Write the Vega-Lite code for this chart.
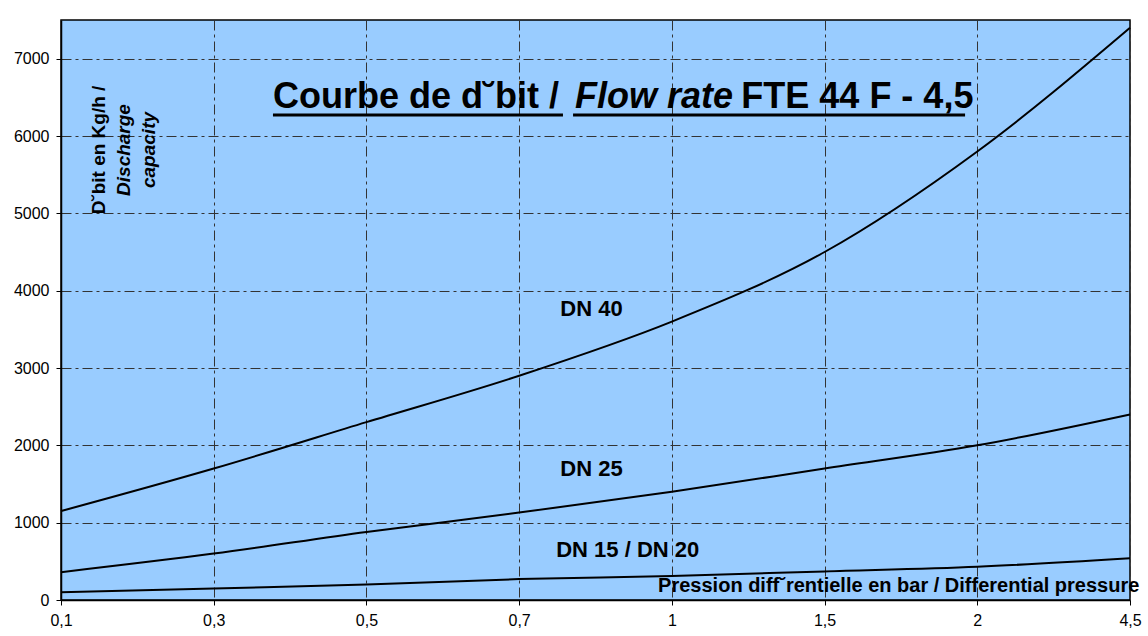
{
  "$schema": "https://vega.github.io/schema/vega-lite/v6.json",
  "width": 1069,
  "height": 580,
  "autosize": {"type": "none"},
  "padding": {"left": 61, "top": 20, "right": 18, "bottom": 36},
  "background": "white",
  "config": {
    "font": "Liberation Sans",
    "view": {"fill": "#99CCFF", "stroke": "#000000", "strokeWidth": 1.5},
    "axis": {
      "grid": true,
      "gridColor": "#333333",
      "gridDash": [10, 4, 3, 4],
      "gridWidth": 1,
      "gridOpacity": 1,
      "domainColor": "#000000",
      "domainWidth": 1.5,
      "tickColor": "#000000",
      "tickSize": 5,
      "tickWidth": 1,
      "labelFont": "Liberation Sans",
      "labelFontSize": 16,
      "labelColor": "#000000",
      "title": null
    }
  },
  "datasets": {
    "curves": [
      {"series": "DN 40", "pressure": "0,1", "idx": 0, "flow": 1150},
      {"series": "DN 40", "pressure": "0,3", "idx": 1, "flow": 1700},
      {"series": "DN 40", "pressure": "0,5", "idx": 2, "flow": 2300},
      {"series": "DN 40", "pressure": "0,7", "idx": 3, "flow": 2900},
      {"series": "DN 40", "pressure": "1", "idx": 4, "flow": 3600},
      {"series": "DN 40", "pressure": "1,5", "idx": 5, "flow": 4500},
      {"series": "DN 40", "pressure": "2", "idx": 6, "flow": 5800},
      {"series": "DN 40", "pressure": "4,5", "idx": 7, "flow": 7400},
      {"series": "DN 25", "pressure": "0,1", "idx": 0, "flow": 360},
      {"series": "DN 25", "pressure": "0,3", "idx": 1, "flow": 600},
      {"series": "DN 25", "pressure": "0,5", "idx": 2, "flow": 880},
      {"series": "DN 25", "pressure": "0,7", "idx": 3, "flow": 1130},
      {"series": "DN 25", "pressure": "1", "idx": 4, "flow": 1400},
      {"series": "DN 25", "pressure": "1,5", "idx": 5, "flow": 1700},
      {"series": "DN 25", "pressure": "2", "idx": 6, "flow": 2000},
      {"series": "DN 25", "pressure": "4,5", "idx": 7, "flow": 2400},
      {"series": "DN 15 / DN 20", "pressure": "0,1", "idx": 0, "flow": 100},
      {"series": "DN 15 / DN 20", "pressure": "0,3", "idx": 1, "flow": 150},
      {"series": "DN 15 / DN 20", "pressure": "0,5", "idx": 2, "flow": 200},
      {"series": "DN 15 / DN 20", "pressure": "0,7", "idx": 3, "flow": 270},
      {"series": "DN 15 / DN 20", "pressure": "1", "idx": 4, "flow": 310},
      {"series": "DN 15 / DN 20", "pressure": "1,5", "idx": 5, "flow": 370},
      {"series": "DN 15 / DN 20", "pressure": "2", "idx": 6, "flow": 430},
      {"series": "DN 15 / DN 20", "pressure": "4,5", "idx": 7, "flow": 540}
    ]
  },
  "encoding": {
    "x": {
      "field": "idx",
      "type": "quantitative",
      "scale": {"domain": [0, 7], "nice": false, "zero": false},
      "axis": {
        "values": [0, 1, 2, 3, 4, 5, 6, 7],
        "labelExpr": "['0,1','0,3','0,5','0,7','1','1,5','2','4,5'][datum.value]",
        "labelPadding": 7,
        "labelFlush": false,
        "labelOverlap": false
      }
    },
    "y": {
      "field": "flow",
      "type": "quantitative",
      "scale": {"domain": [0, 7500], "nice": false},
      "axis": {
        "values": [0, 1000, 2000, 3000, 4000, 5000, 6000, 7000],
        "labelPadding": 7,
        "format": "d"
      }
    }
  },
  "layer": [
    {
      "data": {"name": "curves"},
      "mark": {"type": "line", "interpolate": "monotone", "color": "#000000", "strokeWidth": 2},
      "encoding": {"detail": {"field": "series"}}
    },
    {
      "data": {"values": [
        {"label": "DN 40", "idx": 3.474, "flow": 3676},
        {"label": "DN 25", "idx": 3.474, "flow": 1607},
        {"label": "DN 15 / DN 20", "idx": 3.711, "flow": 560}
      ]},
      "mark": {"type": "text", "font": "Liberation Sans", "fontWeight": "bold", "fontSize": 22, "align": "center", "baseline": "alphabetic", "color": "#000000"},
      "encoding": {"text": {"field": "label"}}
    },
    {
      "data": {"values": [
        {"label": "Pression diff˘rentielle en bar / Differential pressure", "idx": 3.91, "flow": 107}
      ]},
      "mark": {"type": "text", "font": "Liberation Sans", "fontWeight": "bold", "fontSize": 20, "align": "left", "baseline": "alphabetic", "color": "#000000"},
      "encoding": {"text": {"field": "label"}}
    },
    {
      "data": {"values": [
        {"label": "Courbe de d˘bit /", "idx": 1.388, "flow": 6356},
        {"label": "FTE 44 F - 4,5", "idx": 4.455, "flow": 6356}
      ]},
      "mark": {"type": "text", "font": "Liberation Sans", "fontWeight": "bold", "fontSize": 36, "align": "left", "baseline": "alphabetic", "color": "#000000"},
      "encoding": {"text": {"field": "label"}}
    },
    {
      "data": {"values": [
        {"label": "Flow rate", "idx": 3.366, "flow": 6356}
      ]},
      "mark": {"type": "text", "font": "Liberation Sans", "fontWeight": "bold", "fontStyle": "italic", "fontSize": 36, "align": "left", "baseline": "alphabetic", "color": "#000000"},
      "encoding": {"text": {"field": "label"}}
    },
    {
      "data": {"values": [
        {"idx": 1.388, "idx_end": 3.287, "flow": 6272},
        {"idx": 3.353, "idx_end": 5.92, "flow": 6272}
      ]},
      "mark": {"type": "rule", "color": "#000000", "strokeWidth": 3},
      "encoding": {"x2": {"field": "idx_end"}}
    },
    {
      "data": {"values": [
        {"label": "D˘bit en Kg/h /", "idx": 0.291, "flow": 5819}
      ]},
      "mark": {"type": "text", "font": "Liberation Sans", "fontWeight": "bold", "fontSize": 19, "angle": 270, "align": "center", "baseline": "alphabetic", "color": "#000000"},
      "encoding": {"text": {"field": "label"}}
    },
    {
      "data": {"values": [
        {"label": "Discharge", "idx": 0.452, "flow": 5819},
        {"label": "capacity", "idx": 0.616, "flow": 5819}
      ]},
      "mark": {"type": "text", "font": "Liberation Sans", "fontWeight": "bold", "fontStyle": "italic", "fontSize": 19, "angle": 270, "align": "center", "baseline": "alphabetic", "color": "#000000"},
      "encoding": {"text": {"field": "label"}}
    }
  ]
}
